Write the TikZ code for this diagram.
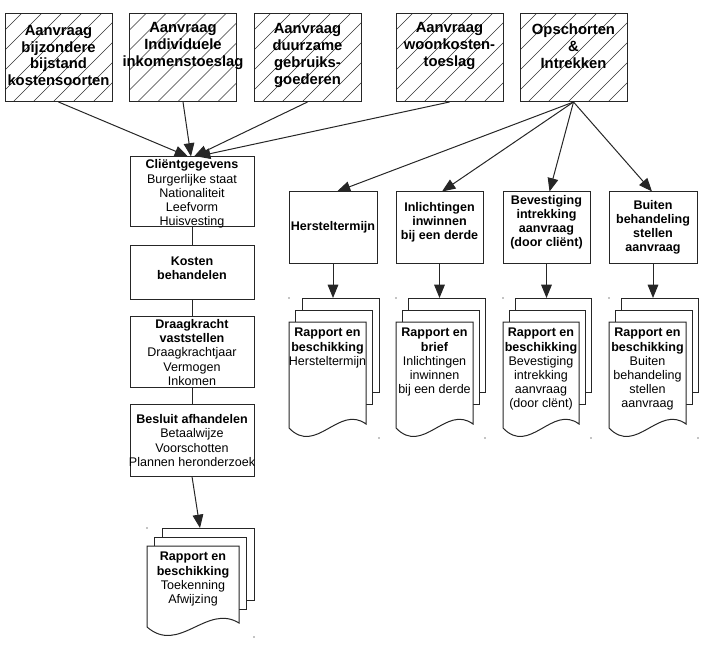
\documentclass[tikz,border=0pt]{standalone}
\usepackage{fontspec}
\setmainfont{Liberation Sans}
\usetikzlibrary{arrows.meta,calc}
\newcommand\docstack[8]{%
  \draw[ln,fill=white] ({#2+2*#6},{#3-2*#7}) rectangle ++(#4,{#5-#7});
  \draw[ln,fill=white] ({#2+#6},{#3-#7}) rectangle ++(#4,{#5-#7});
  \draw[ln,fill=white] (#2,#3) -- ++(#4,0) -- ({#2+#4},{#3+#5-4})
     .. controls ({#2+0.65*#4},{#3+#5-24}) and ({#2+0.35*#4},{#3+#5+28}) .. (#2,{#3+#5}) -- cycle;
  \coordinate (#1-top) at ({#2+2*#6+#4/2},{#3-2*#7});
  \node[btext,anchor=north] (#1-txt) at ({#2+#4/2},{#3+6}) {#8};
  \fill ({#2},{#3-2*#7}) circle (0.7);
  \fill ({#2+#4+2*#6},{#3+#5+10}) circle (0.7);
}
\begin{document}
\begin{tikzpicture}[x=0.75pt,y=-0.75pt,
  ln/.style={draw=black!85,line width=0.75pt},
  topbox/.style={rectangle,inner sep=0,outer sep=0,minimum width=80.25pt,minimum height=66pt},
  box/.style={ln,fill=white,rectangle,inner sep=0},
  hatch/.style={draw=black!80,line width=0.5pt},
  arr/.style={ln,-{Triangle[length=10pt,width=8pt]}},
  ttext/.style={align=center,inner sep=0,font=\bfseries\fontsize{11.1}{12.6}\selectfont},
  btext/.style={align=center,inner sep=0,font=\fontsize{9.4}{10.6}\selectfont}
]
\useasboundingbox (0,0) rectangle (714,649);

% top boxes
\node[topbox] (b1) at (58.5,58) {};
\node[topbox] (b2) at (183,58) {};
\node[topbox] (b3) at (307.5,58) {};
\node[topbox] (b4) at (449.5,58) {};
\node[topbox] (b5) at (573.5,58) {};
\foreach \b in {b1,b2,b3,b4,b5}{
  \begin{scope}
    \clip (\b.south west) rectangle (\b.north east);
    \foreach \k in {-5,...,6}
      \draw[hatch] ($(\b.south west)+(\k*20+8,0)$) -- ++(110,-110);
  \end{scope}
  \draw[ln] (\b.south west) rectangle (\b.north east);
}
\node[ttext] (t1) at (58.5,55.5) {Aanvraag\\bijzondere\\bijstand\\kostensoorten};
\node[ttext] (t2) at (183,46) {Aanvraag\\Individuele\\inkomenstoeslag};
\node[ttext] (t3) at (307.5,55.5) {Aanvraag\\duurzame\\gebruiks-\\goederen};
\node[ttext] (t4) at (449.5,46) {Aanvraag\\woonkosten-\\toeslag};
\node[ttext] (t5) at (573.5,46) {Opschorten\\\&\\Intrekken};

% left column
\node[box,minimum width=93pt,minimum height=52.5pt] (cl) at (192,192) {};
\node[btext] (clt) at (192,194) {\textbf{Cliëntgegevens}\\Burgerlijke staat\\Nationaliteit\\Leefvorm\\Huisvesting};
\node[box,minimum width=93pt,minimum height=40.5pt] (ko) at (192,272) {};
\node[btext,font=\bfseries\fontsize{9.4}{10.6}\selectfont] (kot) at (192,268) {Kosten\\behandelen};
\node[box,minimum width=93pt,minimum height=53.25pt] (dr) at (192,351.5) {};
\node[btext] (drt) at (192,352.5) {\textbf{Draagkracht}\\\textbf{vaststellen}\\Draagkrachtjaar\\Vermogen\\Inkomen};
\node[box,minimum width=93pt,minimum height=54pt] (be) at (192,440) {};
\node[btext] (bet) at (192,440.5) {\textbf{Besluit afhandelen}\\Betaalwijze\\Voorschotten\\Plannen heronderzoek};

\draw[ln] (cl.south) -- (ko.north);
\draw[ln] (ko.south) -- (dr.north);
\draw[ln] (dr.south) -- (be.north);

% right boxes
\node[box,minimum width=66pt,minimum height=53.25pt] (hers) at (333,227.5) {};
\node[btext,font=\bfseries\fontsize{9.4}{10.6}\selectfont] (herst) at (333,227.5) {Hersteltermijn};
\node[box,minimum width=65.25pt,minimum height=53.25pt] (inl) at (439.5,227.5) {};
\node[btext,font=\bfseries\fontsize{9.4}{10.6}\selectfont] (inlt) at (439.5,222.5) {Inlichtingen\\inwinnen\\bij een derde};
\node[box,minimum width=65.25pt,minimum height=53.25pt] (bev) at (546.5,227.5) {};
\node[btext,font=\bfseries\fontsize{9.4}{10.6}\selectfont] (bevt) at (546.5,222.5) {Bevestiging\\intrekking\\aanvraag\\(door cliënt)};
\node[box,minimum width=66pt,minimum height=53.25pt] (bui) at (653,227.5) {};
\node[btext,font=\bfseries\fontsize{9.4}{10.6}\selectfont] (buit) at (653,227.5) {Buiten\\behandeling\\stellen\\aanvraag};

% connectors from top boxes to client
\draw[arr] (b1.south) -- ($(cl.north)+(-4,0)$);
\draw[arr] (b2.south) -- ($(cl.north)+(-1,0)$);
\draw[arr] (b3.south) -- ($(cl.north)+(2,0)$);
\draw[arr] (b4.south) -- ($(cl.north)+(5,0)$);

% fan from Opschorten
\draw[arr] (b5.south) -- ($(hers.north)+(4,0)$);
\draw[arr] (b5.south) -- ($(inl.north)+(2.5,0)$);
\draw[arr] (b5.south) -- ($(bev.north)+(3,0)$);
\draw[arr] (b5.south) -- ($(bui.north)+(-1,0)$);

% document stacks
\docstack{s1}{289}{322}{77}{106}{6.5}{12}{\textbf{Rapport en}\\\textbf{beschikking}\\Hersteltermijn}
\docstack{s2}{396}{322}{77}{106}{6}{12}{\textbf{Rapport en}\\\textbf{brief}\\Inlichtingen\\inwinnen\\bij een derde}
\docstack{s3}{503}{322}{76}{106}{6}{12}{\textbf{Rapport en}\\\textbf{beschikking}\\Bevestiging\\intrekking\\aanvraag\\(door clënt)}
\docstack{s4}{609}{322}{77}{106}{6}{12}{\textbf{Rapport en}\\\textbf{beschikking}\\Buiten\\behandeling\\stellen\\aanvraag}
\docstack{s5}{147}{546}{92}{81}{7.5}{9}{\textbf{Rapport en}\\\textbf{beschikking}\\Toekenning\\Afwijzing}

\draw[arr] (hers.south) -- (hers.south |- s1-top);
\draw[arr] (inl.south) -- (inl.south |- s2-top);
\draw[arr] (bev.south) -- (bev.south |- s3-top);
\draw[arr] (bui.south) -- (bui.south |- s4-top);
\draw[arr] (be.south) -- ($(s5-top)+(-8,0)$);
\end{tikzpicture}
\end{document}
